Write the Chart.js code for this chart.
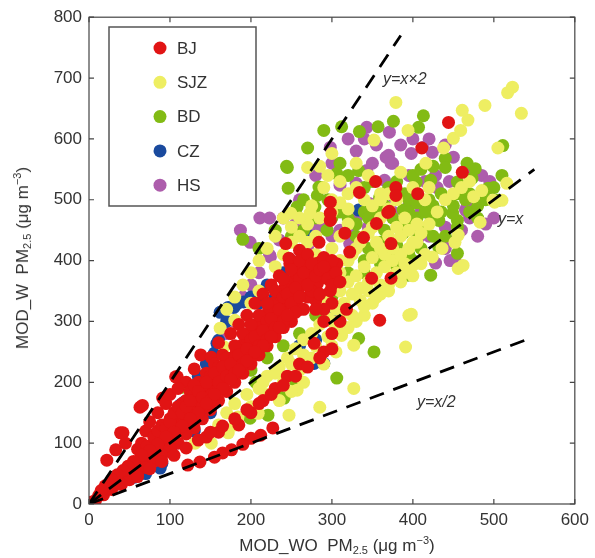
<!DOCTYPE html>
<html>
<head>
<meta charset="utf-8">
<script src="https://cdn.jsdelivr.net/npm/chart.js@4"></script>
<style>
  body { margin: 0; background: #fff; }
  #wrap { position: relative; width: 595px; height: 558px; font-family: "Liberation Sans", Arial, sans-serif; color: #333; }
  .ttl { position: absolute; font-size: 17px; white-space: nowrap; }
  .ttl sub { font-size: 11px; vertical-align: -3px; }
  .ttl sup { font-size: 11px; vertical-align: 7px; }
  #xt { left: 337px; top: 545px; transform: translate(-50%, -50%); }
  #yt { left: 22px; top: 258px; transform: translate(-50%, -50%) rotate(-90deg); }
</style>
</head>
<body>
<div id="wrap">
  <canvas id="myChart" width="595" height="558"></canvas>
  <div class="ttl" id="xt">MOD_WO&nbsp; PM<sub>2.5</sub> (μg m<sup>−3</sup>)</div>
  <div class="ttl" id="yt">MOD_W&nbsp; PM<sub>2.5</sub> (μg m<sup>−3</sup>)</div>
</div>
<script>
// city names and colours
const cities = ['BJ', 'SJZ', 'BD', 'CZ', 'HS'];
const cityColors = ['#e11414', '#eeee62', '#82bb14', '#1a4a9e', '#ad5dac'];

// [MOD_WO, MOD_W] pairs
const bjPts = [[3,3],[8,6],[12,14],[18,15],[22,25],[28,24],[30,36],[36,33],[38,45],[44,42],[46,54],[52,50],[55,62],[60,58],[62,72],[68,66],[70,80],[75,75],[78,92],[84,86],[86,100],[90,95],[92,110],[98,104],[100,118],[104,112],[108,128],[112,120],[115,138],[118,130],[122,148],[126,140],[128,160],[132,150],[136,170],[140,160],[142,182],[146,172],[150,192],[152,180],[156,205],[160,190],[162,215],[166,200],[170,228],[172,212],[176,240],[180,222],[182,250],[186,232],[190,262],[192,244],[196,272],[200,254],[202,285],[206,265],[210,296],[212,276],[216,308],[220,288],[222,320],[226,298],[230,332],[234,310],[236,344],[240,322],[242,356],[246,334],[250,366],[254,344],[256,378],[260,356],[262,390],[266,368],[270,400],[274,378],[278,388],[282,362],[286,398],[290,372],[294,386],[298,350],[302,376],[306,395],[300,330],[290,320],[280,335],[270,340],[260,320],[250,300],[240,290],[230,275],[220,260],[210,245],[200,230],[190,215],[180,200],[170,185],[160,170],[150,155],[140,140],[130,125],[120,115],[110,100],[100,92],[90,80],[80,70],[70,60],[60,48],[50,40],[40,32],
  [122,64],[137,69],[155,77],[165,84],[176,89],[200,108],[212,113],[227,125],[190,98],[145,110],[160,118],[185,130],[200,150],[215,170],[230,190],[245,210],[260,230],[278,264],[290,250],[300,280],[310,300],[318,320],
  [22,72],[33,89],[45,100],[39,117],[42,117],[63,159],[66,162],[91,174],[107,209],[109,209],[138,245],[151,241],[120,200],[130,222],[160,265],[175,280],[185,295],[195,310],[205,330],[215,345],[225,360],[235,375],[248,395],[243,428],[247,404],[260,417],[284,430],[288,397],[298,466],[298,496],[298,478],[316,445],[322,414],[339,438],[355,461],[369,479],[373,428],[349,371],[373,371],[359,302],[334,512],[354,530],[371,481],[379,520],[379,507],[406,510],[411,585],[444,627],[461,545],
  [70,120],[75,135],[85,150],[95,165],[100,180],[110,190],[115,165],[125,185],[135,200],[145,215],[155,230],[165,245],[100,140],[110,150],[120,170],[130,180],[140,195],[150,210],[160,225],[170,240],[180,260],[190,280],[200,295],[210,310],[220,330],[230,350],[240,370],[250,385],[260,400],[270,410],[180,240],[200,270],[220,300],[240,340],[260,370],[280,395],[290,405],[300,400],[275,350],[285,345],
  [60,90],[65,100],[72,95],[80,110],[85,120],[90,130],[95,125],[100,135],[105,150],[110,160],[115,150],[120,160],[125,170],[130,195],[135,185],[140,175],[145,200],[150,170],[155,215],[160,200],[165,225],[170,210],[175,230],[180,215],[185,245],[190,230],[195,255],[200,240],[205,275],[210,260],[215,285],[220,270],[225,305],[230,290],[235,320],[240,300],[245,345],[250,330],[255,355],[260,340],[265,380],[270,360],[275,395],[280,375],[285,385],[290,390],[295,370],[300,360],[305,380],[310,365],[280,320],[290,300],[265,320],[255,315],[245,310],[235,290],[225,275],[215,260],[205,250],[195,235],[185,220],[175,205],[165,190],[155,180],[145,165],[135,150],[125,140],[115,128],[105,118],[95,110],[85,98],[75,88],[65,80],[55,70],[48,62],[42,55],[35,48],[28,40],[20,30],[15,22],
  [60,45],[75,58],[90,70],[105,80],[120,92],[135,105],[150,118],[165,128],[180,140],[195,155],[210,165],[225,180],[240,195],[255,210],[270,225],[285,240],[300,255]];

const sjzPts = [[131,100],[151,100],[172,117],[184,143],[209,149],[247,146],[257,187],[285,159],[327,190],[327,261],[312,277],[391,258],[395,310],[398,312],
  [160,130],[170,150],[180,165],[195,180],[210,190],[220,210],[235,225],[245,240],[255,255],[265,270],[275,280],[285,295],[295,305],[305,320],[315,330],[325,345],[335,355],[345,365],[355,380],[365,390],[375,400],[385,410],[395,420],[405,430],
  [290,340],[300,360],[310,380],[320,400],[330,420],[340,440],[350,455],[360,470],[370,485],[310,350],[320,365],[330,375],[340,390],[350,405],[360,420],[370,440],[380,455],[390,470],[300,420],[310,440],[320,460],[280,440],[270,460],[260,470],[250,455],[240,470],[230,440],[220,420],[210,400],[200,380],[190,360],[180,340],[170,320],[162,289],[180,302],[167,258],[200,330],[210,350],[230,390],[240,410],[250,430],
  [330,300],[340,310],[350,330],[360,345],[370,360],[380,380],[390,395],[400,392],[424,406],[436,420],[452,430],[456,442],[456,387],[462,392],[483,463],[501,496],[400,430],[410,445],[420,460],[430,480],[440,500],[450,510],[460,520],[470,530],[499,499],[510,499],[516,527],
  [416,560],[438,585],[505,585],[450,601],[459,614],[468,631],[461,647],[489,655],[523,685],[517,676],[534,642],[379,660],[394,614],[352,598],[270,553],[300,576],[249,478],[273,478],[330,560],[345,540],[320,510],[340,500],[360,510],[300,500],[290,520],[385,545],[400,520],[415,500],[420,520],[380,500],[475,505],[485,515],
  [180,130],[200,160],[220,180],[240,200],[260,220],[275,240],[300,260],[290,230],[305,250],[265,200],[250,185],[235,170],
  [215,200],[230,215],[250,230],[265,245],[280,260],[295,275],[310,290],[325,310],[340,325],[355,340],[370,350],[385,365],[400,375],[410,395],[415,410],[300,300],[315,315],[320,290],[335,335],[345,350],[360,360],[375,375],[390,380],[310,400],[325,410],[335,430],[345,445],[355,430],[365,410],[375,420],[385,440],[395,450],[405,460],[290,380],[300,395],[280,410],[270,430],[260,440],[285,470],[275,490],[300,480],[310,495],[320,485],[350,490],[360,500],[370,510],[330,520],[310,530],[295,540],[285,555]];

const bdPts = [[244,555],[246,519],[190,435],[290,614],[270,585],[245,553],[282,507],[288,520],[257,488],[312,620],[334,612],[357,620],[376,629],[407,619],[413,638],[306,543],[333,548],[284,521],[511,589],[440,568],[467,560],[477,551],[455,529],[404,529],[422,532],[440,553],[473,535],[493,519],[505,499],[359,504],[379,504],[254,480],[279,488],[294,450],[388,483],[420,478],[455,466],[455,412],[407,450],[388,445],[400,466],[416,453],[432,466],[449,478],[422,376],[400,400],[404,433],[432,422],[394,376],[352,250],[333,272],[306,207],[241,174],[254,204],[221,146],[199,141],[233,179],[200,149],[115,192],[206,200],
  [345,420],[360,430],[370,410],[380,425],[350,470],[365,450],[330,440],[320,470],[340,480],[310,480],[300,470],[380,390],[360,395],[340,380],[320,380],[300,340],[280,310],[260,280],[240,260],[220,240],[200,220],[180,210],[150,180],[130,160],[210,420],[230,450],[265,500],[420,500],[435,510],[450,490],[470,510],[395,500],[405,495],[480,470],[80,90],[70,75],
  [330,460],[345,470],[355,480],[365,490],[375,470],[385,460],[395,480],[405,470],[415,480],[425,490],[435,480],[445,500],[455,510],[465,500],[390,510],[400,540],[410,550],[425,555],[380,530],[370,520],[350,530],[340,520],[320,540],[310,560],[295,500],[280,470],[265,450],[250,440],[340,400],[350,410],[360,415],[370,430],[385,400],[395,410],[410,420],[425,440],[440,440],[455,455],[470,480],[480,490],[490,500],[500,520],[510,540]];

const czPts = [[162,315],[179,323],[191,332],[158,264],[155,248],[160,269],[172,323],[184,330],[56,44],[90,67],[113,163],[118,168],[88,59],[61,48],[101,89],[266,231],[290,231],[278,231],[270,442],[351,488],[333,483],[145,230],[135,210],[125,190],[170,300],[200,340],[210,330],[230,340],[250,330],[150,150],[130,120],[100,100],[80,80],[260,260],[280,270],[300,310],[220,360],[240,380],[70,50],[40,40]];

const hsPts = [[187,450],[211,470],[223,470],[199,430],[235,434],[224,406],[343,619],[371,611],[412,586],[424,578],[367,570],[375,560],[398,576],[343,548],[330,527],[310,524],[428,540],[461,510],[468,494],[359,499],[379,510],[322,428],[443,433],[452,400],[465,483],[346,494],[298,586],[370,573],[373,560],[365,532],[487,512],[467,488],[377,504],[363,504],[407,438],[446,400],[428,396],[440,455],[223,409],[210,380],[200,360],[190,340],[250,400],[270,420],[290,460],[310,450],[330,470],[390,470],[410,480],[420,440],[440,420],[460,450],[470,470],[480,440],[395,540],[415,530],[180,300],[170,280],[150,240],[140,200],
  [330,580],[355,590],[385,590],[400,600],[420,600],[440,590],[450,570],[470,550],[485,540],[495,530],[500,470],[490,460],[350,560],[340,600],[320,600],[300,560],[280,540],[260,500],[240,470],[255,460],[280,450],[300,440],[320,450],[345,455],[375,480],[395,490],[430,520],[445,530]];

// reference lines: end points and labels
const refLines = [[[0,0],[385,770]], [[0,0],[550,550]], [[0,0],[540,270]]];
const refLabels = ['y=x×2', 'y=x', 'y=x/2'];
const refLabelPos = [[383, 80], [498, 220], [417, 403]];

const xTicks = [0, 100, 200, 300, 400, 500, 600];
const yTicks = [0, 100, 200, 300, 400, 500, 600, 700, 800];

const allPts = [bjPts, sjzPts, bdPts, czPts, hsPts];
const toXY = a => a.map(p => ({ x: p[0], y: p[1] }));

const datasets = [];
cities.forEach((c, i) => {
    datasets.push({
        label: c,
        data: toXY(allPts[i]),
        backgroundColor: cityColors[i],
        borderWidth: 0,
        pointRadius: 6.5,
        pointHoverRadius: 6.5,
        order: i + 1
    });
});
refLines.forEach((l, i) => {
    datasets.push({
        label: refLabels[i],
        data: toXY(l),
        showLine: true,
        borderColor: '#000',
        borderWidth: 2.8,
        borderDash: [15, 10],
        pointRadius: 0,
        order: 0
    });
});

const frame = {
    id: 'frame',
    afterDraw(chart) {
        const c = chart.ctx, a = chart.chartArea;
        const xs = chart.scales.x, ys = chart.scales.y;
        c.save();
        c.strokeStyle = '#444';
        c.lineWidth = 1.2;
        c.strokeRect(a.left, a.top, a.right - a.left, a.bottom - a.top);
        c.beginPath();
        xTicks.forEach(v => {
            const px = xs.getPixelForValue(v);
            c.moveTo(px, a.bottom); c.lineTo(px, a.bottom - 5);
            c.moveTo(px, a.top); c.lineTo(px, a.top + 5);
        });
        yTicks.forEach(v => {
            const py = ys.getPixelForValue(v);
            c.moveTo(a.left, py); c.lineTo(a.left + 5, py);
            c.moveTo(a.right, py); c.lineTo(a.right - 5, py);
        });
        c.stroke();

        // line labels
        c.fillStyle = '#333';
        c.font = 'italic 16px "Liberation Sans", Arial, sans-serif';
        c.textBaseline = 'middle';
        refLabels.forEach((t, i) => c.fillText(t, refLabelPos[i][0], refLabelPos[i][1]));

        // legend box
        c.fillStyle = '#fff';
        c.fillRect(109, 27, 147, 179);
        c.strokeStyle = '#555';
        c.lineWidth = 1.5;
        c.strokeRect(109, 27, 147, 179);
        c.font = '17px "Liberation Sans", Arial, sans-serif';
        cities.forEach((name, i) => {
            const yy = 48 + i * 34.3;
            c.fillStyle = cityColors[i];
            c.beginPath();
            c.arc(160, yy, 6.5, 0, Math.PI * 2);
            c.fill();
            c.fillStyle = '#333';
            c.fillText(name, 177, yy + 1);
        });
        c.restore();
    }
};

const tickFont = { family: '"Liberation Sans", Arial, sans-serif', size: 17 };

new Chart(document.getElementById('myChart'), {
    type: 'scatter',
    data: { datasets: datasets },
    options: {
        responsive: false,
        animation: false,
        layout: { padding: { top: 17, right: 14, left: 0, bottom: 0 } },
        plugins: { legend: { display: false }, tooltip: { enabled: false } },
        scales: {
            x: {
                min: 0, max: 600,
                grid: { display: false, drawTicks: false },
                border: { display: false },
                ticks: { stepSize: 100, color: '#333', font: tickFont, padding: 6, maxRotation: 0 },
                afterFit(s) { s.height = 54; }
            },
            y: {
                min: 0, max: 800,
                grid: { display: false, drawTicks: false },
                border: { display: false },
                ticks: { stepSize: 100, color: '#333', font: tickFont, padding: 7 },
                afterFit(s) { s.width = 89; }
            }
        }
    },
    plugins: [frame]
});
</script>
</body>
</html>
